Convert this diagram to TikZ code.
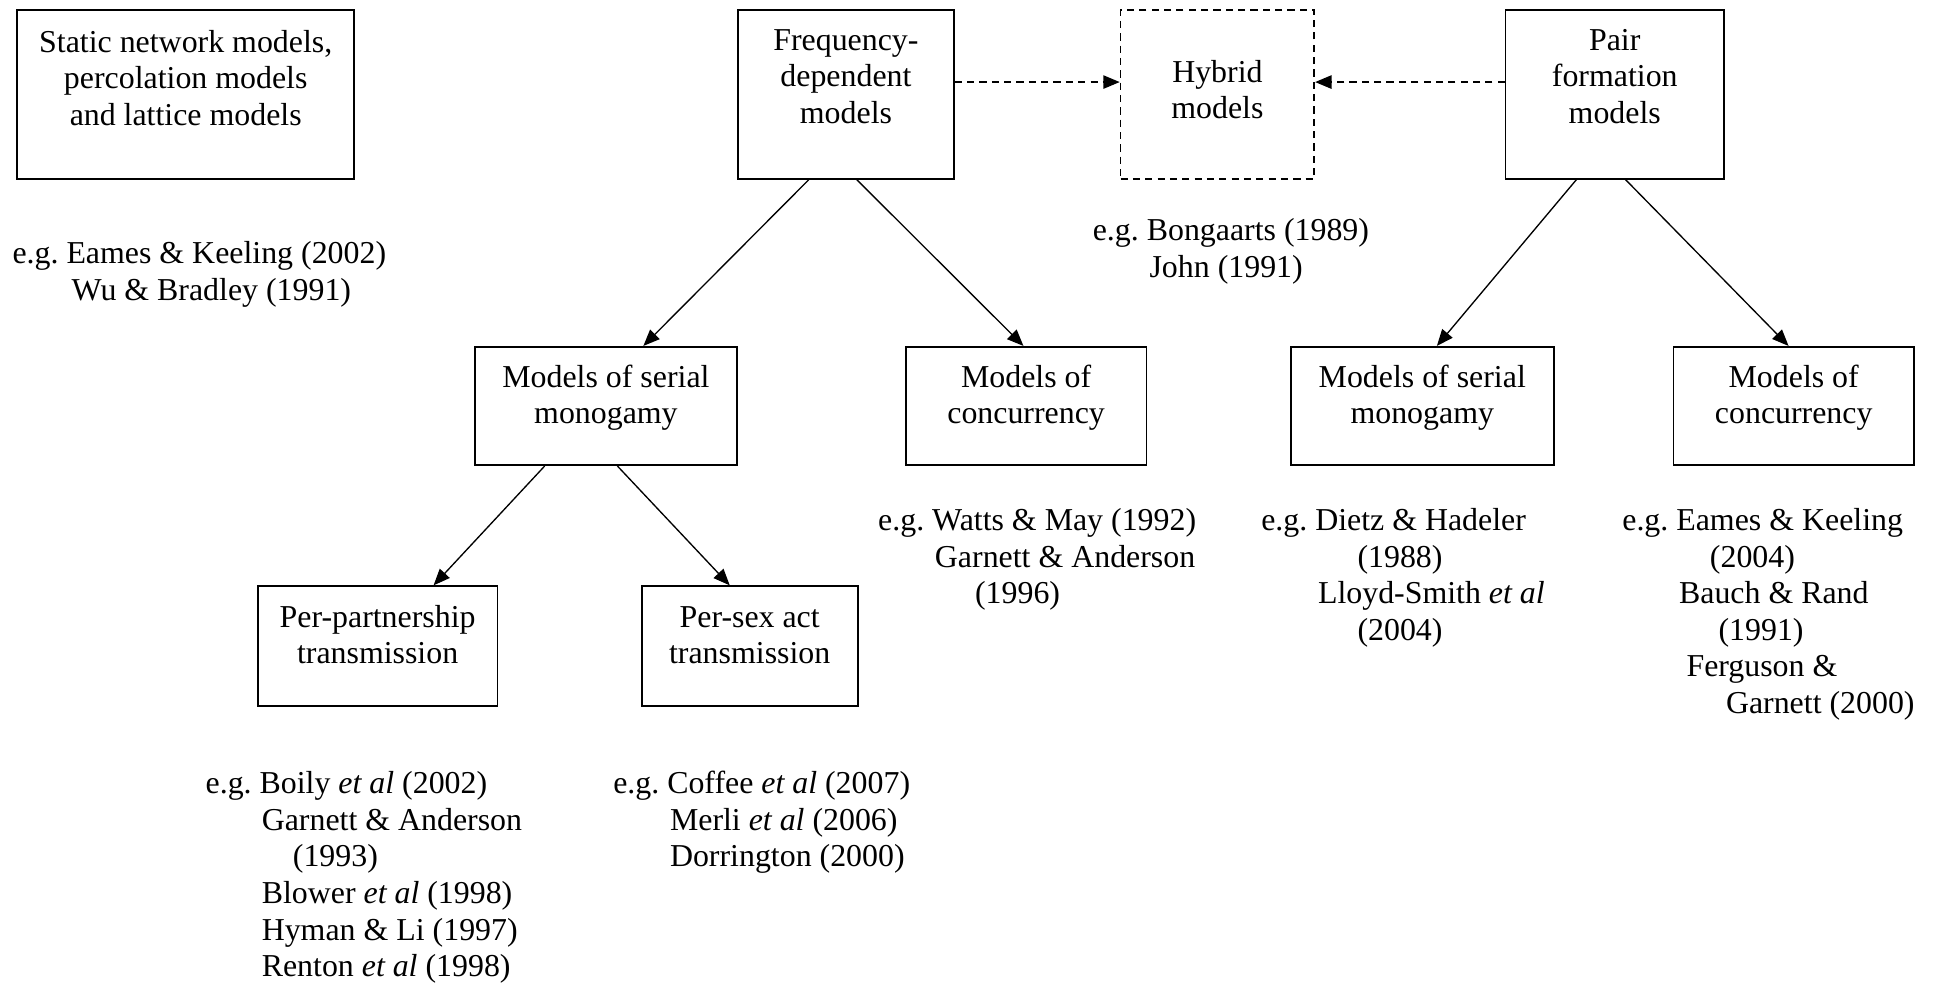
\documentclass[tikz,border=0pt]{standalone}
\usepackage{fontspec}
\setmainfont{Liberation Serif}
\usetikzlibrary{arrows.meta,calc}
\frenchspacing
\newlength\ux \setlength\ux{0.6pt}
\newcommand\ind[1]{\hspace*{#1\ux}}
\newcommand\tp{\rule{0pt}{12pt}}
\newcommand\fs{\fontsize{15.5pt}{17.8pt}\selectfont}
\begin{document}
\begin{tikzpicture}[x=0.6pt,y=-0.6pt,
  box/.style={draw, line width=0.8pt, inner sep=0},
  dbox/.style={box, dash pattern=on 3.5pt off 2.5pt},
  btxt/.style={inner sep=0, anchor=north, align=center, font=\fs},
  rtxt/.style={inner sep=0, anchor=north west, align=left, font=\fs},
  arr/.style={-{Triangle[length=8pt,width=6.5pt]}, line width=0.65pt},
  darr/.style={arr, line width=0.75pt, dash pattern=on 3.5pt off 2.5pt}]
\useasboundingbox (0,0) rectangle (1568,799);
% top row
\node[box, minimum width=163.8pt, minimum height=82.2pt] (static) at (150.5,76.5) {};
\node[btxt] (staticT) at (150.5,21.9) {\tp Static network models,\\percolation models\\and lattice models};
\node[box, minimum width=105pt, minimum height=82.2pt] (freq) at (685.5,76.5) {};
\node[btxt] (freqT) at (685.5,20.5) {\tp Frequency-\\dependent\\models};
\node[dbox, minimum width=94.2pt, minimum height=82.2pt] (hyb) at (986.5,76.5) {};
\node[btxt] (hybT) at (986.5,46.2) {\tp Hybrid\\models};
\node[box, minimum width=106.2pt, minimum height=82.2pt] (pair) at (1308.5,76.5) {};
\node[btxt] (pairT) at (1308.5,20.5) {\tp Pair\\formation\\models};
% middle row
\node[box, minimum width=127.2pt, minimum height=57.6pt] (serL) at (491,329) {};
\node[btxt] (serLT) at (491,293.3) {\tp Models of serial\\monogamy};
\node[box, minimum width=117pt, minimum height=57.6pt] (conL) at (831.5,329) {};
\node[btxt] (conLT) at (831.5,293.3) {\tp Models of\\concurrency};
\node[box, minimum width=127.8pt, minimum height=57.6pt] (serR) at (1152.5,329) {};
\node[btxt] (serRT) at (1152.5,293.3) {\tp Models of serial\\monogamy};
\node[box, minimum width=117pt, minimum height=57.6pt] (conR) at (1453.5,329) {};
\node[btxt] (conRT) at (1453.5,293.3) {\tp Models of\\concurrency};
% bottom row
\node[box, minimum width=116.4pt, minimum height=58.2pt] (part) at (306,523.5) {};
\node[btxt] (partT) at (306,487.8) {\tp Per-partnership\\transmission};
\node[box, minimum width=105pt, minimum height=58.2pt] (sex) at (607.5,523.5) {};
\node[btxt] (sexT) at (607.5,487.8) {\tp Per-sex act\\transmission};
% references
\node[rtxt] (refStatic) at (9.8,193.4) {\tp e.g. Eames \& Keeling (2002)\\\ind{48}Wu \& Bradley (1991)};
\node[rtxt] (refHyb) at (885.2,174.5) {\tp e.g. Bongaarts (1989)\\\ind{46}John (1991)};
\node[rtxt] (refConL) at (711.3,409.5) {\tp e.g. Watts \& May (1992)\\\ind{46}Garnett \& Anderson\\\ind{78.5}(1996)};
\node[rtxt] (refSerR) at (1021.7,409.5) {\tp e.g. Dietz \& Hadeler\\\ind{78}(1988)\\\ind{46}Lloyd-Smith \textit{et al}\\\ind{78}(2004)};
\node[rtxt] (refConR) at (1314.3,409.5) {\tp e.g. Eames \& Keeling\\\ind{71}(2004)\\\ind{46}Bauch \& Rand\\\ind{78}(1991)\\\ind{52}Ferguson \&\\\ind{84}Garnett (2000)};
\node[rtxt] (refPart) at (166.3,622.8) {\tp e.g. Boily \textit{et al} (2002)\\\ind{45.5}Garnett \& Anderson\\\ind{70.7}(1993)\\\ind{45.5}Blower \textit{et al} (1998)\\\ind{45.5}Hyman \& Li (1997)\\\ind{45.5}Renton \textit{et al} (1998)};
\node[rtxt] (refSex) at (496.6,622.8) {\tp e.g. Coffee \textit{et al} (2007)\\\ind{46}Merli \textit{et al} (2006)\\\ind{46}Dorrington (2000)};
% connectors
\draw[darr] (freq.east |- 0,66.5) -- (hyb.west |- 0,66.5);
\draw[darr] (pair.west |- 0,66.5) -- (hyb.east |- 0,66.5);
\draw[arr] ($(freq.south west)+(58,0)$) -- ($(serL.north west)+(137,0)$);
\draw[arr] ($(freq.south west)+(97,0)$) -- ($(conL.north west)+(96,0)$);
\draw[arr] ($(pair.south west)+(58,0)$) -- ($(serR.north west)+(119,0)$);
\draw[arr] ($(pair.south west)+(98,0)$) -- ($(conR.north west)+(94,0)$);
\draw[arr] ($(serL.south west)+(57,0)$) -- ($(part.north west)+(143,0)$);
\draw[arr] ($(serL.south west)+(116,0)$) -- ($(sex.north west)+(72,0)$);
\end{tikzpicture}
\end{document}
